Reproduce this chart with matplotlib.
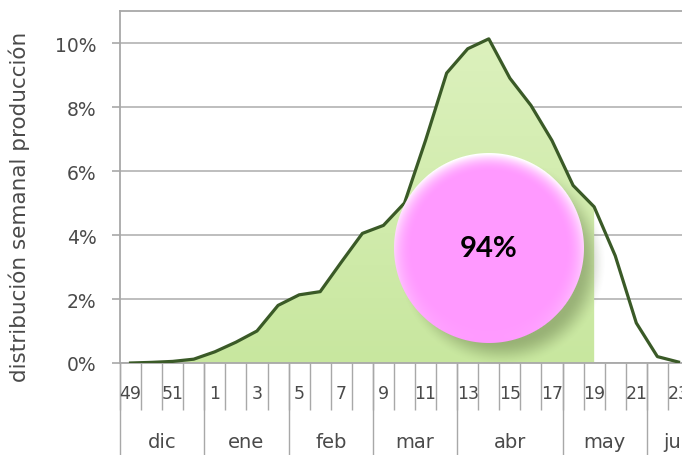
import numpy as np
import matplotlib
matplotlib.use("Agg")
import matplotlib.pyplot as plt
import matplotlib.transforms as mtransforms
from matplotlib.colors import to_rgb

# weekly share of production (%), week 49 of previous year to week 23
weeks = [49, 50, 51, 52] + list(range(1, 24))
share = [0.0, 0.02, 0.05, 0.12, 0.35, 0.65, 1.0, 1.8, 2.13, 2.23, 3.15, 4.05,
         4.3, 5.0, 6.96, 9.06, 9.82, 10.13, 8.9, 8.05, 6.95, 5.55, 4.88, 3.35,
         1.25, 0.2, 0.03]
months = ["dic", "ene", "feb", "mar", "abr", "may", "jun"]
month_weeks = [4, 4, 4, 4, 5, 4, 3]
last_filled_week = 19
badge_text = "94%"

W, H, DPI = 682, 456, 100
fig = plt.figure(figsize=(W / DPI, H / DPI), dpi=DPI)
fig.patch.set_facecolor("white")

# axes in pixels: left 120, bottom 364 (from top), top 12; runs off the right edge
ax = fig.add_axes([120 / W, (H - 364) / H, 569 / W, 352 / H])
x = np.arange(len(weeks))
y = np.array(share)

grey = "#a8a8a8"
txt = "#4a4a4a"
ax.set_xlim(-0.5, len(weeks) - 0.5)
ax.set_ylim(0, 11)

ax.set_yticks(np.arange(0, 11, 2))
ax.set_yticklabels([f"{v}%" for v in range(0, 11, 2)])
ax.tick_params(axis="y", length=6, width=1.2, color=grey, pad=11,
               labelsize=13.5, labelcolor=txt)
ax.grid(axis="y", color="#b9b9b9", lw=1.3)
ax.set_axisbelow(True)
for s in ["left", "top", "bottom"]:
    ax.spines[s].set_color(grey)
    ax.spines[s].set_linewidth(1.3)
ax.spines["right"].set_visible(False)

ax.set_ylabel("distribución semanal producción", fontsize=15.5, color=txt)
ax.yaxis.set_label_coords(-0.158, 0.445)

# category axis: ticks between weeks, labels on every other week
ax.set_xticks(np.arange(-0.5, len(weeks), 1.0))
ax.set_xticklabels([])
ax.tick_params(axis="x", length=34, width=1.0, color=grey)
bt = mtransforms.blended_transform_factory(ax.transData, ax.transAxes)
for i in x[::2]:
    ax.text(i, -0.085, str(weeks[i]), transform=bt, ha="center", va="center",
            fontsize=12.5, color=txt)
edges = np.concatenate([[0], np.cumsum(month_weeks)]) - 0.5
ax.vlines(edges, -0.3, 0, transform=bt, color=grey, lw=1.0, clip_on=False)
for m, a, b in zip(months, edges[:-1], edges[1:]):
    ax.text((a + b) / 2, -0.222, m, transform=bt, ha="center", va="center",
            fontsize=14, color=txt)

# filled area with soft gradient, up to the last filled week
k = weeks.index(last_filled_week) + 1
poly = ax.fill_between(x[:k], 0, y[:k], color="none", zorder=2)
grad = np.linspace(0, 1, 256)[:, None]
c_top, c_bot = np.array(to_rgb("#dcf1bd")), np.array(to_rgb("#c8e79f"))
img = c_top + (c_bot - c_top) * grad[..., None]
im = ax.imshow(img, extent=[x[0], x[k - 1], 0, y.max()], origin="upper",
               aspect="auto", zorder=2)
im.set_clip_path(poly.get_paths()[0], transform=ax.transData)
ax.plot(x, y, color="#3a5a27", lw=2.3, zorder=4, solid_joinstyle="round")

# badge overlay, in pixel units
ov = fig.add_axes([0, 0, 1, 1], zorder=5)
ov.set_xlim(0, W)
ov.set_ylim(0, H)
ov.axis("off")
ov.patch.set_alpha(0)
cx, cy = ax.transData.transform((17, 3.6))
R = 95.0

# shadow, offset to the lower right
sx, sy, sr, blur = cx + 13, cy - 14, 92.0, 26.0
gx, gy = np.meshgrid(np.arange(sx - sr - blur, sx + sr + blur) + 0.5,
                     np.arange(sy - sr - blur, sy + sr + blur) + 0.5)
dist = np.hypot(gx - sx, gy - sy)
t = np.clip((sr + blur / 2 - dist) / blur, 0, 1)
a = 0.34 * t * t * (3 - 2 * t)
sh = np.zeros(gx.shape + (4,))
sh[..., :3] = to_rgb("#3a4a22")
sh[..., 3] = a
ov.imshow(sh, extent=[gx.min() - 0.5, gx.max() + 0.5, gy.min() - 0.5, gy.max() + 0.5],
          origin="lower", interpolation="bilinear", zorder=1)

# pink disc with white rim highlight
gx, gy = np.meshgrid(np.arange(cx - R - 2, cx + R + 2) + 0.5,
                     np.arange(cy - R - 2, cy + R + 2) + 0.5)
dx, dy = (gx - cx) / R, (gy - cy) / R
d = np.hypot(dx, dy)
rim = np.clip((d - 0.80) / 0.20, 0, 1) ** 2
wt = np.clip(rim * (0.5 + 0.5 * dy) * 1.1, 0, 1)
pink = np.array(to_rgb("#ff99ff"))
disc = np.zeros(gx.shape + (4,))
disc[..., :3] = pink + (1 - pink) * wt[..., None]
disc[..., 3] = np.clip((1 - d) * R + 0.5, 0, 1)
ov.imshow(disc, extent=[gx.min() - 0.5, gx.max() + 0.5, gy.min() - 0.5, gy.max() + 0.5],
          origin="lower", interpolation="bilinear", zorder=2)
ov.text(cx, cy, badge_text, ha="center", va="center", fontsize=21,
        fontweight="bold", family="Lato", color="black", zorder=3)

fig.savefig("out.png", dpi=DPI)
